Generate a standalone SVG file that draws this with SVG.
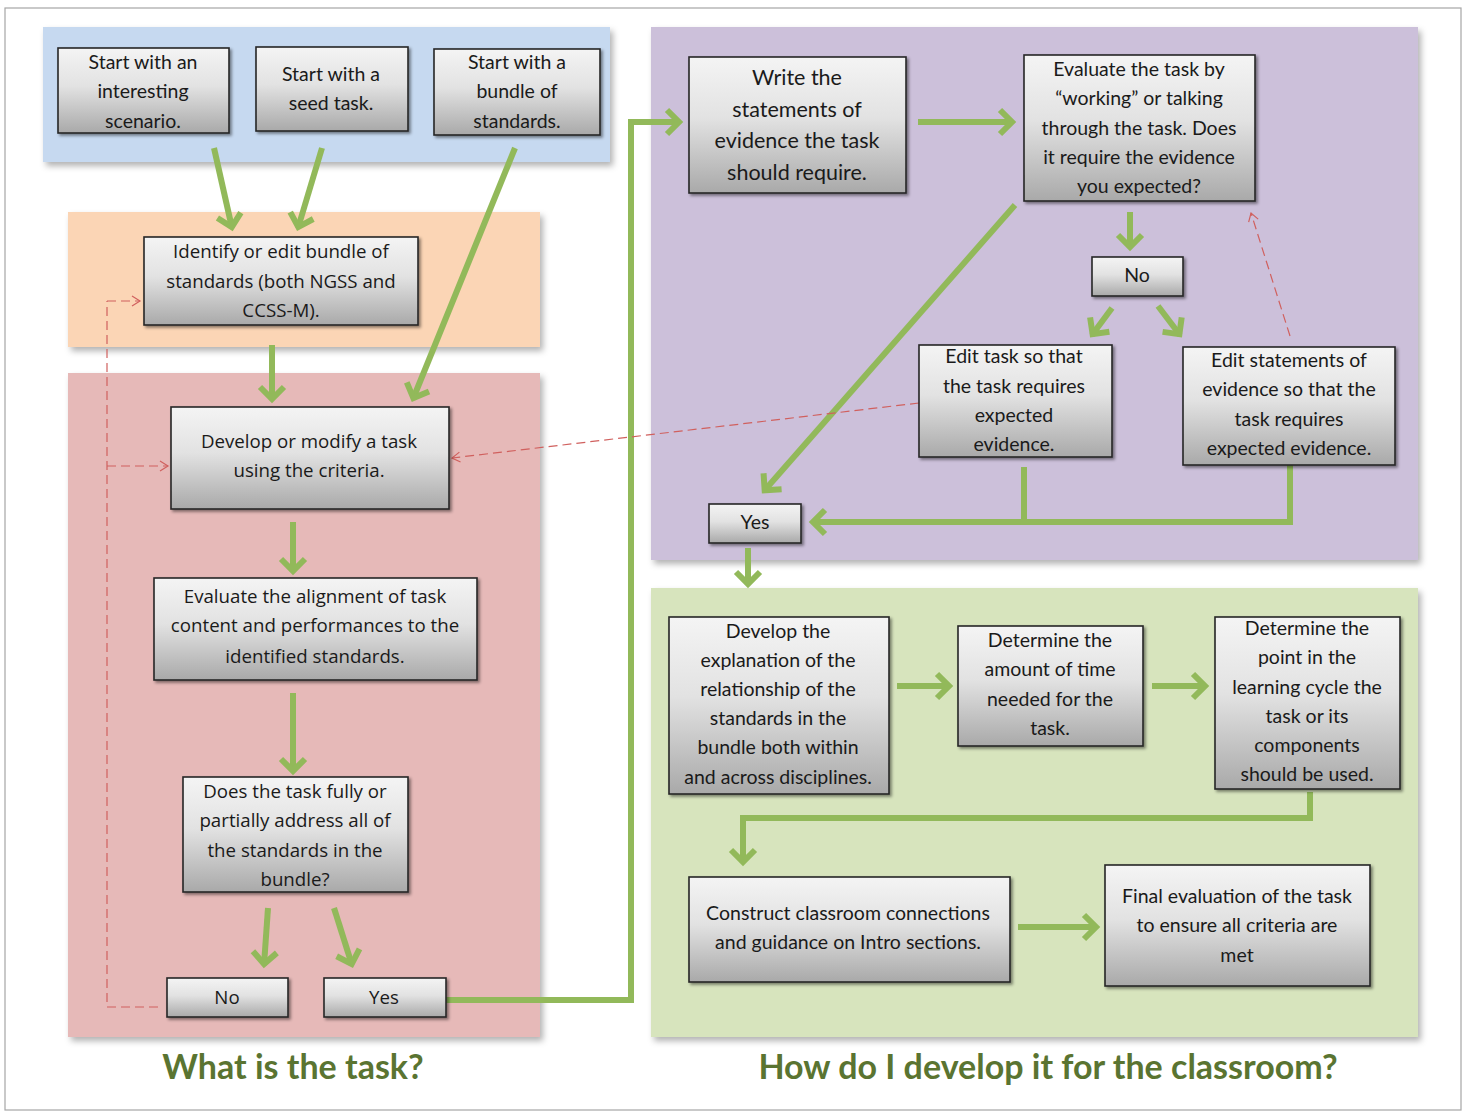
<svg xmlns="http://www.w3.org/2000/svg" width="1466" height="1114" viewBox="0 0 1466 1114">
<defs>
<linearGradient id="boxg" x1="0" y1="0" x2="0" y2="1">
<stop offset="0" stop-color="#f4f4f4"/>
<stop offset="0.45" stop-color="#e2e2e2"/>
<stop offset="1" stop-color="#a9a9a9"/>
</linearGradient>
<filter id="bsh" x="-10%" y="-10%" width="130%" height="130%">
<feDropShadow dx="2" dy="2" stdDeviation="1.5" flood-color="#000" flood-opacity="0.45"/>
</filter>
<filter id="psh" x="-5%" y="-5%" width="115%" height="115%">
<feDropShadow dx="3" dy="4" stdDeviation="3" flood-color="#000" flood-opacity="0.3"/>
</filter>
<marker id="ga" viewBox="-18 -18 22 36" markerWidth="22" markerHeight="36" refX="0" refY="0" orient="auto" markerUnits="userSpaceOnUse">
<path d="M-13,-12 L-1,0 L-13,12" fill="none" stroke="#92b95a" stroke-width="6"/>
</marker>
<marker id="ra" viewBox="-10 -6 12 12" markerWidth="12" markerHeight="12" refX="0" refY="0" orient="auto" markerUnits="userSpaceOnUse">
<path d="M-8,-5 L0,0 L-8,5" fill="none" stroke="#d0605e" stroke-width="1.2"/>
</marker>
</defs>
<style>
.panel{filter:url(#psh)}
.box{fill:url(#boxg);stroke:#262626;stroke-width:1.6;filter:url(#bsh)}
.t{font-family:Lato,"Liberation Sans",sans-serif;font-size:19.5px;fill:#1a1a1a;text-anchor:middle}
.tw{font-family:"Open Sans","Liberation Sans",sans-serif;font-size:18.7px;fill:#1a1a1a;text-anchor:middle}
.tl{font-size:21.5px}
.gl{fill:none;stroke:#92b95a;stroke-width:6;marker-end:url(#ga)}
.gn{fill:none;stroke:#92b95a;stroke-width:6}
.rd{fill:none;stroke:#d0605e;stroke-width:1.2;stroke-dasharray:9 5}
.rda{fill:none;stroke:#d0605e;stroke-width:1.2;stroke-dasharray:9 5;marker-end:url(#ra)}
.title{font-family:Lato,"Liberation Sans",sans-serif;font-weight:bold;font-size:34px;fill:#5a7431;text-anchor:middle}
</style>
<rect x="5" y="8" width="1456" height="1102" fill="#ffffff" stroke="#a6a6a6" stroke-width="1.2"/>
<g id="panels">
<rect class="panel" x="43" y="27" width="567" height="135" fill="#c6d9f0"/>
<rect class="panel" x="68" y="212" width="472" height="135" fill="#fbd5b5"/>
<rect class="panel" x="68" y="373" width="472" height="664" fill="#e6b9b8"/>
<rect class="panel" x="651" y="27" width="767" height="533" fill="#ccc0da"/>
<rect class="panel" x="651" y="588" width="767" height="449" fill="#d7e4bd"/>
</g>
<g id="connectors">
<line class="gl" x1="214" y1="148" x2="232" y2="228"/>
<line class="gl" x1="322" y1="148" x2="298" y2="228"/>
<line class="gl" x1="515" y1="148" x2="413" y2="399"/>
<line class="gl" x1="272" y1="345" x2="272" y2="400"/>
<line class="gl" x1="293" y1="522" x2="293" y2="572"/>
<line class="gl" x1="293" y1="693" x2="293" y2="772"/>
<line class="gl" x1="268" y1="908" x2="264" y2="965"/>
<line class="gl" x1="334" y1="908" x2="352" y2="965"/>
<polyline class="gl" points="446,1000 631,1000 631,122 680,122"/>
<line class="gl" x1="918" y1="122" x2="1013" y2="122"/>
<line class="gl" x1="1130" y1="212" x2="1130" y2="248"/>
<line class="gl" x1="1112" y1="308" x2="1092" y2="335"/>
<line class="gl" x1="1158" y1="306" x2="1180" y2="335"/>
<line class="gl" x1="1015" y1="205" x2="764" y2="491"/>
<line class="gn" x1="1024" y1="467" x2="1024" y2="522"/>
<polyline class="gl" points="1290,465 1290,522 812,522"/>
<line class="gl" x1="748" y1="548" x2="748" y2="585"/>
<line class="gl" x1="897" y1="686" x2="950" y2="686"/>
<line class="gl" x1="1152" y1="686" x2="1206" y2="686"/>
<polyline class="gl" points="1310,792 1310,818 743,818 743,863"/>
<line class="gl" x1="1018" y1="927" x2="1097" y2="927"/>
<polyline class="rd" points="158,1007 107,1007 107,301"/>
<line class="rda" x1="107" y1="301" x2="140" y2="301"/>
<line class="rda" x1="107" y1="466" x2="168" y2="466"/>
<line class="rda" x1="919" y1="403" x2="452" y2="458"/>
<line class="rda" x1="1290" y1="336" x2="1251" y2="213"/>
</g>
<g id="n1"><rect class="box" x="58" y="48" width="171" height="85"/>
<text class="t"><tspan x="143" y="69">Start with an</tspan><tspan x="143" y="98">interesting</tspan><tspan x="143" y="128">scenario.</tspan></text></g>
<g id="n2"><rect class="box" x="256" y="47" width="152" height="84"/>
<text class="t"><tspan x="331" y="81">Start with a</tspan><tspan x="331" y="110">seed task.</tspan></text></g>
<g id="n3"><rect class="box" x="434" y="49" width="166" height="86"/>
<text class="t"><tspan x="517" y="69">Start with a</tspan><tspan x="517" y="98">bundle of</tspan><tspan x="517" y="128">standards.</tspan></text></g>
<g id="n4"><rect class="box" x="144" y="237" width="274" height="88"/>
<text class="tw"><tspan x="281" y="258">Identify or edit bundle of</tspan><tspan x="281" y="288">standards (both NGSS and</tspan><tspan x="281" y="317">CCSS-M).</tspan></text></g>
<g id="n5"><rect class="box" x="171" y="407" width="278" height="102"/>
<text class="tw"><tspan x="309" y="448">Develop or modify a task</tspan><tspan x="309" y="477">using the criteria.</tspan></text></g>
<g id="n6"><rect class="box" x="154" y="578" width="323" height="102"/>
<text class="tw"><tspan x="315" y="603">Evaluate the alignment of task</tspan><tspan x="315" y="632">content and performances to the</tspan><tspan x="315" y="663">identified standards.</tspan></text></g>
<g id="n7"><rect class="box" x="183" y="777" width="225" height="115"/>
<text class="tw"><tspan x="295" y="798">Does the task fully or</tspan><tspan x="295" y="827">partially address all of</tspan><tspan x="295" y="857">the standards in the</tspan><tspan x="295" y="886">bundle?</tspan></text></g>
<g id="n8"><rect class="box" x="167" y="978" width="121" height="39"/>
<text class="tw"><tspan x="227" y="1004">No</tspan></text></g>
<g id="n9"><rect class="box" x="324" y="978" width="122" height="39"/>
<text class="tw"><tspan x="384" y="1004">Yes</tspan></text></g>
<g id="n10"><rect class="box" x="689" y="57" width="217" height="136"/>
<text class="t tl"><tspan x="797" y="85">Write the</tspan><tspan x="797" y="117">statements of</tspan><tspan x="797" y="148">evidence the task</tspan><tspan x="797" y="180">should require.</tspan></text></g>
<g id="n11"><rect class="box" x="1024" y="55" width="231" height="146"/>
<text class="t"><tspan x="1139" y="76">Evaluate the task by</tspan><tspan x="1139" y="105">“working” or talking</tspan><tspan x="1139" y="135">through the task. Does</tspan><tspan x="1139" y="164">it require the evidence</tspan><tspan x="1139" y="193">you expected?</tspan></text></g>
<g id="n12"><rect class="box" x="1092" y="257" width="91" height="39"/>
<text class="t"><tspan x="1137" y="282">No</tspan></text></g>
<g id="n13"><rect class="box" x="919" y="345" width="193" height="112"/>
<text class="t"><tspan x="1014" y="363">Edit task so that</tspan><tspan x="1014" y="393">the task requires</tspan><tspan x="1014" y="422">expected</tspan><tspan x="1014" y="451">evidence.</tspan></text></g>
<g id="n14"><rect class="box" x="1183" y="347" width="212" height="118"/>
<text class="t"><tspan x="1289" y="367">Edit statements of</tspan><tspan x="1289" y="396">evidence so that the</tspan><tspan x="1289" y="426">task requires</tspan><tspan x="1289" y="455">expected evidence.</tspan></text></g>
<g id="n15"><rect class="box" x="709" y="504" width="92" height="39"/>
<text class="t"><tspan x="755" y="529">Yes</tspan></text></g>
<g id="n16"><rect class="box" x="669" y="617" width="220" height="177"/>
<text class="t"><tspan x="778" y="638">Develop the</tspan><tspan x="778" y="667">explanation of the</tspan><tspan x="778" y="696">relationship of the</tspan><tspan x="778" y="725">standards in the</tspan><tspan x="778" y="754">bundle both within</tspan><tspan x="778" y="784">and across disciplines.</tspan></text></g>
<g id="n17"><rect class="box" x="958" y="626" width="185" height="120"/>
<text class="t"><tspan x="1050" y="647">Determine the</tspan><tspan x="1050" y="676">amount of time</tspan><tspan x="1050" y="706">needed for the</tspan><tspan x="1050" y="735">task.</tspan></text></g>
<g id="n18"><rect class="box" x="1215" y="617" width="185" height="172"/>
<text class="t"><tspan x="1307" y="635">Determine the</tspan><tspan x="1307" y="664">point in the</tspan><tspan x="1307" y="694">learning cycle the</tspan><tspan x="1307" y="723">task or its</tspan><tspan x="1307" y="752">components</tspan><tspan x="1307" y="781">should be used.</tspan></text></g>
<g id="n19"><rect class="box" x="689" y="877" width="321" height="105"/>
<text class="t"><tspan x="848" y="920">Construct classroom connections</tspan><tspan x="848" y="949">and guidance on Intro sections.</tspan></text></g>
<g id="n20"><rect class="box" x="1105" y="865" width="265" height="121"/>
<text class="t"><tspan x="1237" y="903">Final evaluation of the task</tspan><tspan x="1237" y="932">to ensure all criteria are</tspan><tspan x="1237" y="962">met</tspan></text></g>
<g id="titles">
<text class="title" x="293" y="1079">What is the task?</text>
<text class="title" x="1048" y="1079">How do I develop it for the classroom?</text>
</g>
</svg>
